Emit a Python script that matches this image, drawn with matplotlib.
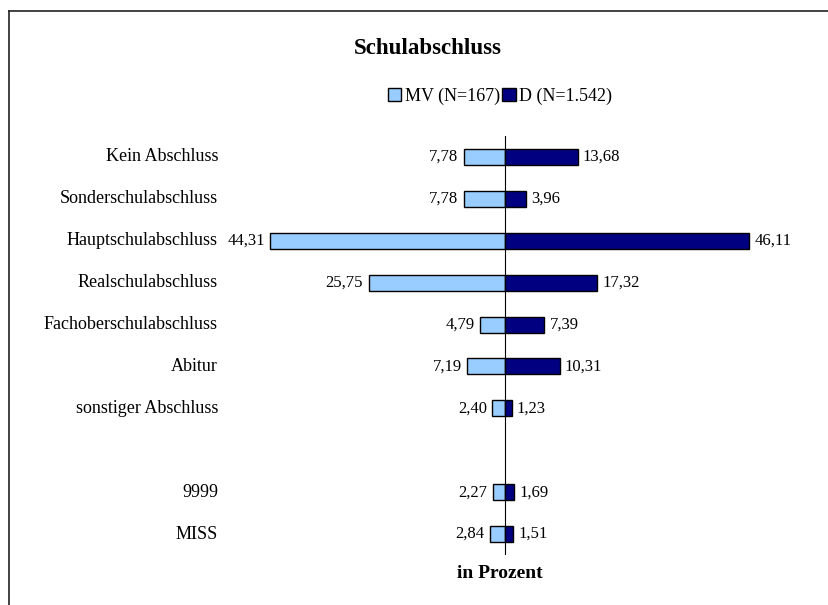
import matplotlib
matplotlib.use("Agg")
import matplotlib.pyplot as plt
from matplotlib.lines import Line2D
from matplotlib.patches import Patch

categories = ["Kein Abschluss", "Sonderschulabschluss", "Hauptschulabschluss",
              "Realschulabschluss", "Fachoberschulabschluss", "Abitur",
              "sonstiger Abschluss", "", "9999", "MISS"]
mv_values = [7.78, 7.78, 44.31, 25.75, 4.79, 7.19, 2.40, None, 2.27, 2.84]
d_values = [13.68, 3.96, 46.11, 17.32, 7.39, 10.31, 1.23, None, 1.69, 1.51]
series_labels = ["MV (N=167)", "D (N=1.542)"]
title = "Schulabschluss"
xlabel = "in Prozent"

plt.rcParams['font.family'] = ['Liberation Serif', 'DejaVu Serif']

W, H = 829, 605
fig = plt.figure(figsize=(W / 100, H / 100), dpi=100)

# axes in pixel coords
ax_l, ax_r = 100, 800
ax_top, ax_bot = 136, 555
ax = fig.add_axes([ax_l / W, 1 - ax_bot / H, (ax_r - ax_l) / W, (ax_bot - ax_top) / H])
scale = 5.3  # px per unit
center = 505
ax.set_xlim((ax_l - center) / scale, (ax_r - center) / scale)
n = len(categories)
ax.set_ylim(n - 0.5, -0.5)
ax.axis("off")

light = "#99CCFF"
dark = "#000080"
h = 0.38
fs = 12
for i, (cat, mv, d) in enumerate(zip(categories, mv_values, d_values)):
    if cat:
        ax.text((218 - center) / scale, i, cat, ha="right", va="center", fontsize=13)
    if mv is not None:
        ax.barh(i, -mv, height=h, color=light, edgecolor="black", linewidth=1)
        ax.text(-mv - 1.0, i, f"{mv:.2f}".replace(".", ","), ha="right", va="center", fontsize=fs)
    if d is not None:
        ax.barh(i, d, height=h, color=dark, edgecolor="black", linewidth=1)
        ax.text(d + 1.0, i, f"{d:.2f}".replace(".", ","), ha="left", va="center", fontsize=fs)

ax.axvline(0, color="black", linewidth=0.8)

fig.text(428 / W, 1 - 48 / H, title, ha="center", va="center", fontsize=16.5, fontweight="bold")
fig.text(500 / W, 1 - 574 / H, xlabel, ha="center", va="center", fontsize=14, fontweight="bold")

handles = [Patch(facecolor=light, edgecolor="black"), Patch(facecolor=dark, edgecolor="black")]
leg = fig.legend(handles, series_labels, loc="center", bbox_to_anchor=(500 / W, 1 - 96 / H),
                 ncol=2, frameon=False, fontsize=13, handlelength=0.75, handleheight=0.75,
                 handletextpad=0.2, columnspacing=0.1, borderpad=0)

# frame lines (left and top)
fig.add_artist(Line2D([9 / W, 9 / W], [0, 1 - 11 / H], color="#222222", linewidth=1.2, transform=fig.transFigure))
fig.add_artist(Line2D([9 / W, 1], [1 - 11 / H, 1 - 11 / H], color="#222222", linewidth=1.2, transform=fig.transFigure))

fig.savefig("out.png", dpi=100, facecolor="white")
